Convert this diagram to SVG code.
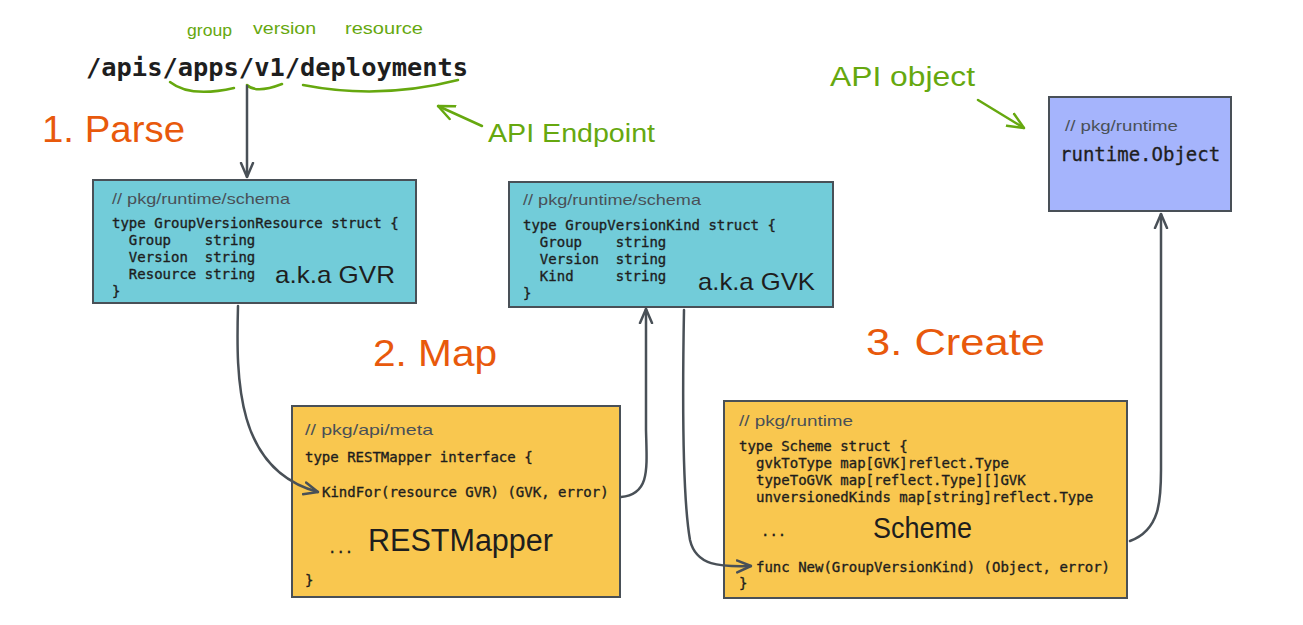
<svg xmlns="http://www.w3.org/2000/svg" width="1303" height="625" viewBox="0 0 1303 625">
<style>
text{white-space:pre}
.hand{font-family:"Liberation Sans","Noto Sans",sans-serif}
.green{fill:#66a80f}
.orange{fill:#e8590c;font-size:36px}
.code{font-family:"DejaVu Sans Mono","Liberation Mono",monospace;font-size:14px;fill:#1e1e1e;stroke:#1e1e1e;stroke-width:0.35}
.cmt{font-family:"Liberation Sans","Noto Sans",sans-serif;font-size:15px;fill:#495057}
.box{stroke:#495057;stroke-width:2}
.conn{fill:none;stroke:#495057;stroke-width:2.5;stroke-linecap:round}
.gline{fill:none;stroke:#66a80f;stroke-width:2.5;stroke-linecap:round}
.big{font-family:"Liberation Sans","Noto Sans",sans-serif;fill:#1e1e1e}
</style>
<defs>
<marker id="ah" viewBox="0 0 16 16" refX="15" refY="8" markerWidth="16" markerHeight="16" markerUnits="userSpaceOnUse" orient="auto">
<path d="M1 2 L15 8 L1 14" fill="none" stroke="#495057" stroke-width="2.5" stroke-linecap="round" stroke-linejoin="round"/>
</marker>
<marker id="gh" viewBox="0 0 18 18" refX="17" refY="9" markerWidth="18" markerHeight="18" markerUnits="userSpaceOnUse" orient="auto">
<path d="M1 2 L17 9 L1 16" fill="none" stroke="#66a80f" stroke-width="2.5" stroke-linecap="round" stroke-linejoin="round"/>
</marker>
</defs>
<rect width="1303" height="625" fill="#ffffff"/>

<g id="endpoint">
<text x="86" y="76" font-family="DejaVu Sans Mono,Liberation Mono,monospace" font-size="25.4" font-weight="bold" fill="#1e1e1e">/apis/apps/v1/deployments</text>
<text class="hand green" x="187" y="36" font-size="16" textLength="45" lengthAdjust="spacingAndGlyphs">group</text>
<text class="hand green" x="253" y="34" font-size="16" textLength="63" lengthAdjust="spacingAndGlyphs">version</text>
<text class="hand green" x="345" y="34" font-size="16" textLength="78" lengthAdjust="spacingAndGlyphs">resource</text>
<path class="gline" d="M170 82 Q190 98 234 88"/>
<path class="gline" d="M247 85 Q256 94 282 84"/>
<path class="gline" d="M303 85 Q380 100 458 80"/>
</g>

<g id="labels">
<text class="hand orange" x="42" y="142" textLength="143" lengthAdjust="spacingAndGlyphs">1. Parse</text>
<text class="hand orange" x="373" y="366" textLength="124" lengthAdjust="spacingAndGlyphs">2. Map</text>
<text class="hand orange" x="866" y="355" textLength="179" lengthAdjust="spacingAndGlyphs">3. Create</text>
<text class="hand green" x="488" y="142" font-size="26" textLength="167" lengthAdjust="spacingAndGlyphs">API Endpoint</text>
<text class="hand green" x="830" y="86" font-size="27" textLength="145" lengthAdjust="spacingAndGlyphs">API object</text>
<path class="gline" d="M482 126 L438 106" marker-end="url(#gh)"/>
<path class="gline" d="M978 100 L1024 128" marker-end="url(#gh)"/>
</g>

<g id="gvr">
<rect class="box" x="93" y="180" width="323" height="123" fill="#72ccd9"/>
<text class="cmt" x="112" y="204" textLength="178" lengthAdjust="spacingAndGlyphs">// pkg/runtime/schema</text>
<text class="code" x="112" y="228">type GroupVersionResource struct {</text>
<text class="code" x="112" y="245">  Group    string</text>
<text class="code" x="112" y="262">  Version  string</text>
<text class="code" x="112" y="279">  Resource string</text>
<text class="code" x="112" y="296">}</text>
<text class="big" x="275" y="283" font-size="24" textLength="120" lengthAdjust="spacingAndGlyphs">a.k.a GVR</text>
</g>

<g id="gvk">
<rect class="box" x="509" y="182" width="324" height="125" fill="#72ccd9"/>
<text class="cmt" x="523" y="205" textLength="178" lengthAdjust="spacingAndGlyphs">// pkg/runtime/schema</text>
<text class="code" x="523" y="230">type GroupVersionKind struct {</text>
<text class="code" x="523" y="247">  Group    string</text>
<text class="code" x="523" y="264">  Version  string</text>
<text class="code" x="523" y="281">  Kind     string</text>
<text class="code" x="523" y="298">}</text>
<text class="big" x="698" y="290" font-size="24" textLength="117" lengthAdjust="spacingAndGlyphs">a.k.a GVK</text>
</g>

<g id="restmapper">
<rect class="box" x="292" y="406" width="328" height="191" fill="#f9c74f"/>
<text class="cmt" x="305" y="435" textLength="128" lengthAdjust="spacingAndGlyphs">// pkg/api/meta</text>
<text class="code" x="305" y="462">type RESTMapper interface {</text>
<text class="code" x="322" y="497">KindFor(resource GVR) (GVK, error)</text>
<text class="code" x="328" y="553">...</text>
<text class="big" x="368" y="551" font-size="31" textLength="185" lengthAdjust="spacingAndGlyphs">RESTMapper</text>
<text class="code" x="305" y="585">}</text>
</g>

<g id="scheme">
<rect class="box" x="724" y="401" width="403" height="197" fill="#f9c74f"/>
<text class="cmt" x="739" y="426" textLength="114" lengthAdjust="spacingAndGlyphs">// pkg/runtime</text>
<text class="code" x="739" y="451">type Scheme struct {</text>
<text class="code" x="756" y="468">gvkToType map[GVK]reflect.Type</text>
<text class="code" x="756" y="485">typeToGVK map[reflect.Type][]GVK</text>
<text class="code" x="756" y="502">unversionedKinds map[string]reflect.Type</text>
<text class="code" x="761" y="536">...</text>
<text class="big" x="873" y="538" font-size="29" textLength="99" lengthAdjust="spacingAndGlyphs">Scheme</text>
<text class="code" x="756" y="572">func New(GroupVersionKind) (Object, error)</text>
<text class="code" x="739" y="588">}</text>
</g>

<g id="object">
<rect class="box" x="1049" y="97" width="182" height="114" fill="#a5b4fc"/>
<text class="cmt" x="1065" y="131" textLength="113" lengthAdjust="spacingAndGlyphs">// pkg/runtime</text>
<text x="1060" y="161" font-family="DejaVu Sans Mono,Liberation Mono,monospace" font-size="19" fill="#1e1e1e" stroke="#1e1e1e" stroke-width="0.3">runtime.Object</text>
</g>

<g id="connectors">
<path class="conn" d="M247 86 L247 177" marker-end="url(#ah)"/>
<path class="conn" d="M238 306 C236 380 236 470 318 492" marker-end="url(#ah)"/>
<path class="conn" d="M621 497 C650 494 647 470 646 430 L646 309" marker-end="url(#ah)"/>
<path class="conn" d="M684 310 C682 420 683 500 690 540 C696 566 720 567 751 566" marker-end="url(#ah)"/>
<path class="conn" d="M1130 541 C1160 530 1161 500 1161 470 L1161 214" marker-end="url(#ah)"/>
</g>
</svg>
